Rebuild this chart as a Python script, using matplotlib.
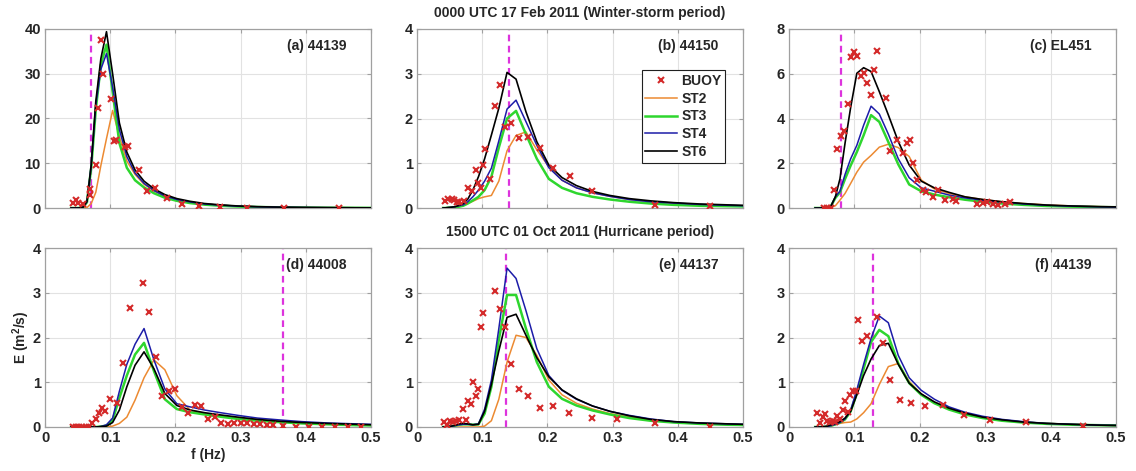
import matplotlib
matplotlib.use("Agg")
import matplotlib.pyplot as plt

plt.rcParams['font.family'] = ['Liberation Sans', 'DejaVu Sans']
plt.rcParams['font.weight'] = 'bold'
plt.rcParams['mathtext.fontset'] = 'custom'
plt.rcParams['mathtext.rm'] = 'Liberation Sans:bold'
plt.rcParams['mathtext.bf'] = 'Liberation Sans:bold'

# model frequency bins (Hz)
model_freq = [0.0400, 0.0440, 0.0484, 0.0532, 0.0586, 0.0644, 0.0709, 0.0779, 0.0857,
              0.0943, 0.1037, 0.1141, 0.1255, 0.1381, 0.1519, 0.1671, 0.1838, 0.2022,
              0.2224, 0.2446, 0.2691, 0.2960, 0.3256, 0.3582, 0.3940, 0.4334, 0.4767, 0.5244]

# (a) 44139, winter storm
a_buoy_f = [0.0426, 0.0477, 0.0513, 0.058, 0.069, 0.0695, 0.0785, 0.082, 0.086, 0.0897, 0.1015,
            0.106, 0.109, 0.123, 0.127, 0.1436, 0.156, 0.169, 0.187, 0.21, 0.236, 0.269, 0.31,
            0.367, 0.451]
a_buoy_E = [1.2, 1.8, 1.2, 0.9, 4.2, 2.9, 9.7, 22.4, 37.5, 30.0, 24.3, 14.9, 15.2, 13.7, 13.8,
            8.6, 3.9, 4.4, 2.3, 1.0, 0.5, 0.25, 0.1, 0.1, 0.05]
a_st2 = [0, 0, 0, 0, 0, 0.1, 1.0, 3.5, 9.5, 15.5, 21.8, 16.0, 10.5, 7.5, 5.3, 3.8, 2.7, 1.9,
         1.35, 0.9, 0.62, 0.4, 0.27, 0.18, 0.12, 0.08, 0.05, 0.03]
a_st3 = [0, 0, 0, 0.02, 0.2, 1.3, 9.0, 22.0, 32.0, 36.5, 26.0, 14.5, 9.0, 6.2, 4.6, 3.3, 2.3,
         1.6, 1.1, 0.75, 0.5, 0.33, 0.22, 0.15, 0.1, 0.06, 0.04, 0.02]
a_st4 = [0, 0, 0, 0.02, 0.2, 1.4, 9.5, 23.0, 31.0, 34.5, 27.0, 17.5, 11.5, 7.8, 5.5, 3.9, 2.7,
         1.9, 1.35, 0.9, 0.62, 0.4, 0.27, 0.18, 0.12, 0.08, 0.05, 0.03]
a_st6 = [0, 0, 0, 0.02, 0.2, 1.5, 9.6, 23.8, 33.4, 39.4, 30.0, 19.0, 12.5, 8.5, 6.0, 4.3, 3.0,
         2.1, 1.5, 1.0, 0.7, 0.45, 0.3, 0.2, 0.13, 0.08, 0.05, 0.03]

# (b) 44150, winter storm
b_buoy_f = [0.043, 0.048, 0.053, 0.057, 0.061, 0.065, 0.0726, 0.0788, 0.0839, 0.0905, 0.094,
            0.0977, 0.1017, 0.105, 0.112, 0.1196, 0.127, 0.135, 0.144, 0.156, 0.170, 0.189,
            0.208, 0.234, 0.268, 0.365, 0.45]
b_buoy_E = [0.16, 0.19, 0.19, 0.18, 0.13, 0.14, 0.15, 0.44, 0.38, 0.86, 0.56, 0.44, 0.96, 1.32,
            0.65, 2.29, 2.74, 1.8, 1.91, 1.56, 1.58, 1.33, 0.9, 0.72, 0.37, 0.06, 0.05]
b_st2 = [0, 0, 0, 0.01, 0.02, 0.04, 0.07, 0.1, 0.15, 0.21, 0.25, 0.28, 0.6, 1.28, 1.62, 1.7,
         1.3, 0.92, 0.62, 0.45, 0.34, 0.26, 0.19, 0.14, 0.1, 0.07, 0.05, 0.04]
b_st3 = [0, 0, 0.01, 0.01, 0.02, 0.03, 0.05, 0.1, 0.17, 0.25, 0.4, 0.7, 1.35, 2.0, 2.17, 1.65,
         1.1, 0.65, 0.45, 0.33, 0.25, 0.19, 0.14, 0.1, 0.07, 0.05, 0.04, 0.03]
b_st4 = [0, 0.005, 0.01, 0.015, 0.03, 0.05, 0.07, 0.14, 0.25, 0.4, 0.6, 0.89, 1.5, 2.21, 2.41,
         1.93, 1.4, 0.9, 0.62, 0.45, 0.34, 0.26, 0.19, 0.14, 0.11, 0.08, 0.06, 0.04]
b_st6 = [0, 0.005, 0.01, 0.02, 0.03, 0.06, 0.1, 0.2, 0.4, 0.7, 1.1, 1.63, 2.23, 3.03, 2.88,
         2.15, 1.48, 0.96, 0.68, 0.5, 0.37, 0.28, 0.21, 0.16, 0.12, 0.09, 0.07, 0.05]

# (c) EL451, winter storm
c_buoy_f = [0.053, 0.058, 0.0637, 0.069, 0.0739, 0.079, 0.084, 0.0897, 0.0943, 0.0994, 0.1045,
            0.1096, 0.1147, 0.1188, 0.125, 0.13, 0.135, 0.149, 0.154, 0.1646, 0.1748, 0.18,
            0.185, 0.19, 0.195, 0.205, 0.21, 0.2197, 0.228, 0.238, 0.251, 0.256, 0.287, 0.297,
            0.303, 0.312, 0.32, 0.33, 0.338]
c_buoy_E = [0, 0, 0, 0.79, 2.62, 3.21, 3.44, 4.65, 6.74, 6.95, 6.8, 5.9, 6.05, 5.6, 5.05, 6.17,
            7.0, 4.9, 2.56, 3.03, 2.47, 2.91, 3.03, 2.02, 1.24, 0.82, 0.72, 0.49, 0.82, 0.37,
            0.42, 0.31, 0.16, 0.22, 0.27, 0.16, 0.13, 0.16, 0.27]
c_st2 = [0, 0, 0, 0, 0.01, 0.02, 0.1, 0.35, 0.65, 1.1, 1.6, 2.05, 2.35, 2.72, 2.85, 2.7, 2.3,
         1.25, 0.85, 0.65, 0.5, 0.38, 0.28, 0.2, 0.14, 0.09, 0.06, 0.04]
c_st3 = [0, 0, 0, 0.01, 0.03, 0.1, 0.45, 0.7, 1.3, 1.9, 2.5, 3.25, 4.15, 3.85, 2.95, 1.95, 1.05,
         0.75, 0.6, 0.48, 0.37, 0.28, 0.2, 0.14, 0.09, 0.06, 0.04, 0.03]
c_st4 = [0, 0, 0, 0.01, 0.03, 0.1, 0.5, 0.75, 1.5, 2.2, 2.8, 3.7, 4.55, 4.2, 3.3, 2.2, 1.35,
         0.9, 0.75, 0.58, 0.45, 0.35, 0.26, 0.18, 0.12, 0.08, 0.05, 0.03]
c_st6 = [0, 0, 0, 0.01, 0.03, 0.1, 0.5, 1.3, 2.9, 4.5, 6.02, 6.27, 6.1, 5.2, 4.16, 2.97, 1.92,
         1.2, 0.9, 0.7, 0.5, 0.38, 0.28, 0.2, 0.13, 0.09, 0.06, 0.04]

# (d) 44008, hurricane
d_buoy_f = [0.0425, 0.0475, 0.0525, 0.0575, 0.0625, 0.0675, 0.0725, 0.0775, 0.0825, 0.0875,
            0.0925, 0.10, 0.11, 0.12, 0.13, 0.15, 0.16, 0.17, 0.18, 0.19, 0.20, 0.21, 0.22,
            0.23, 0.24, 0.25, 0.26, 0.27, 0.28, 0.29, 0.30, 0.31, 0.32, 0.33, 0.34, 0.35,
            0.365, 0.385, 0.405, 0.425, 0.445, 0.465, 0.485]
d_buoy_E = [0, 0, 0, 0, 0, 0, 0.1, 0.17, 0.32, 0.42, 0.36, 0.62, 0.53, 1.44, 2.65, 3.21, 2.58,
            1.57, 0.69, 0.81, 0.86, 0.45, 0.32, 0.49, 0.47, 0.17, 0.22, 0.1, 0.06, 0.08, 0.1,
            0.08, 0.07, 0.07, 0.04, 0.04, 0.02, 0.01, 0.01, 0, 0, 0, 0]
d_st2 = [0, 0, 0, 0, 0, 0, 0, 0, 0, 0, 0.02, 0.08, 0.22, 0.6, 1.1, 1.5, 1.28, 0.7, 0.38, 0.3,
         0.25, 0.2, 0.16, 0.12, 0.09, 0.07, 0.05, 0.04]
d_st3 = [0, 0, 0, 0, 0, 0, 0, 0, 0.01, 0.03, 0.15, 0.65, 1.15, 1.62, 1.88, 1.25, 0.62, 0.4,
         0.33, 0.28, 0.23, 0.18, 0.14, 0.11, 0.08, 0.06, 0.04, 0.03]
d_st4 = [0, 0, 0, 0, 0, 0, 0, 0, 0.01, 0.05, 0.2, 0.8, 1.4, 1.85, 2.2, 1.5, 0.85, 0.52, 0.45,
         0.38, 0.32, 0.26, 0.2, 0.16, 0.12, 0.09, 0.07, 0.05]
d_st6 = [0, 0, 0, 0, 0, 0, 0, 0, 0.01, 0.02, 0.1, 0.38, 0.9, 1.38, 1.68, 1.3, 0.75, 0.48, 0.38,
         0.32, 0.27, 0.22, 0.17, 0.13, 0.1, 0.08, 0.06, 0.04]

# (e) 44137, hurricane
e_buoy_f = [0.0414, 0.0465, 0.0506, 0.0557, 0.0598, 0.065, 0.071, 0.075, 0.0788, 0.0823, 0.0864,
            0.0905, 0.094, 0.0977, 0.1017, 0.119, 0.127, 0.135, 0.144, 0.1565, 0.17, 0.188,
            0.208, 0.2337, 0.268, 0.307, 0.365, 0.45]
e_buoy_E = [0.12, 0.04, 0.13, 0.12, 0.14, 0.16, 0.4, 0.16, 0.57, 0.51, 1.0, 0.69, 0.86, 2.24,
            2.54, 3.05, 2.63, 2.23, 1.41, 0.84, 0.7, 0.42, 0.47, 0.32, 0.19, 0.17, 0.08, 0.01]
e_st2 = [0, 0, 0, 0, 0, 0, 0, 0, 0, 0, 0.02, 0.14, 0.62, 1.45, 2.05, 2.0, 1.6, 1.05, 0.72,
         0.53, 0.4, 0.3, 0.22, 0.16, 0.11, 0.08, 0.06, 0.04]
e_st3 = [0, 0, 0.01, 0.02, 0.03, 0.05, 0.06, 0.06, 0.05, 0.06, 0.3, 0.9, 1.95, 2.95, 2.95, 2.2,
         1.45, 0.9, 0.63, 0.48, 0.37, 0.28, 0.2, 0.14, 0.1, 0.07, 0.05, 0.04]
e_st4 = [0, 0, 0.01, 0.02, 0.03, 0.05, 0.06, 0.06, 0.05, 0.07, 0.4, 1.05, 2.2, 3.55, 3.32, 2.6,
         1.75, 1.15, 0.82, 0.62, 0.47, 0.35, 0.26, 0.18, 0.12, 0.09, 0.07, 0.05]
e_st6 = [0, 0, 0.01, 0.02, 0.04, 0.07, 0.08, 0.07, 0.05, 0.06, 0.35, 0.95, 1.7, 2.45, 2.52,
         2.05, 1.55, 1.12, 0.83, 0.63, 0.47, 0.35, 0.25, 0.17, 0.12, 0.09, 0.07, 0.05]

# (f) 44139, hurricane
f_buoy_f = [0.0423, 0.0474, 0.0515, 0.055, 0.0586, 0.0627, 0.0668, 0.0703, 0.074, 0.078, 0.082,
            0.0857, 0.0897, 0.0933, 0.0974, 0.1025, 0.105, 0.111, 0.119, 0.134, 0.1442, 0.155,
            0.170, 0.1866, 0.208, 0.235, 0.268, 0.307, 0.363, 0.45]
f_buoy_E = [0.32, 0.08, 0.23, 0.29, 0.14, 0.12, 0.14, 0.12, 0.25, 0.17, 0.38, 0.57, 0.34, 0.72,
            0.81, 0.81, 2.38, 1.93, 2.03, 2.46, 1.88, 1.04, 0.6, 0.53, 0.48, 0.5, 0.27, 0.16,
            0.11, 0.02]
f_st2 = [0, 0, 0, 0, 0, 0.02, 0.05, 0.08, 0.1, 0.11, 0.18, 0.32, 0.52, 0.95, 1.35, 1.42, 1.02,
         0.74, 0.55, 0.41, 0.3, 0.21, 0.15, 0.11, 0.08, 0.06, 0.04, 0.03]
f_st3 = [0, 0, 0, 0, 0.01, 0.03, 0.06, 0.1, 0.17, 0.35, 0.75, 1.3, 1.9, 2.17, 2.03, 1.42, 0.98,
         0.72, 0.53, 0.39, 0.28, 0.2, 0.14, 0.1, 0.07, 0.05, 0.04, 0.03]
f_st4 = [0, 0, 0, 0, 0.01, 0.03, 0.06, 0.1, 0.18, 0.38, 0.83, 1.4, 1.98, 2.48, 2.33, 1.6, 1.1,
         0.82, 0.62, 0.45, 0.33, 0.24, 0.17, 0.12, 0.08, 0.06, 0.04, 0.03]
f_st6 = [0, 0, 0, 0.01, 0.02, 0.05, 0.08, 0.12, 0.2, 0.35, 0.72, 1.15, 1.52, 1.82, 1.87, 1.4,
         0.98, 0.74, 0.56, 0.42, 0.31, 0.22, 0.16, 0.11, 0.08, 0.06, 0.04, 0.03]

panel_labels = ['(a) 44139', '(b) 44150', '(c) EL451', '(d) 44008', '(e) 44137', '(f) 44139']
peak_freq = [0.0708, 0.1416, 0.079, 0.365, 0.1365, 0.129]
y_max = [40, 4, 8, 4, 4, 4]
y_step = [10, 1, 2, 1, 1, 1]
x_ticks = [0, 0.1, 0.2, 0.3, 0.4, 0.5]
x_ticklabels = ['0', '0.1', '0.2', '0.3', '0.4', '0.5']
series_names = ['BUOY', 'ST2', 'ST3', 'ST4', 'ST6']
title_winter = '0000 UTC 17 Feb 2011 (Winter-storm period)'
title_hurricane = '1500 UTC 01 Oct 2011 (Hurricane period)'

buoy_f = [a_buoy_f, b_buoy_f, c_buoy_f, d_buoy_f, e_buoy_f, f_buoy_f]
buoy_E = [a_buoy_E, b_buoy_E, c_buoy_E, d_buoy_E, e_buoy_E, f_buoy_E]
st2 = [a_st2, b_st2, c_st2, d_st2, e_st2, f_st2]
st3 = [a_st3, b_st3, c_st3, d_st3, e_st3, f_st3]
st4 = [a_st4, b_st4, c_st4, d_st4, e_st4, f_st4]
st6 = [a_st6, b_st6, c_st6, d_st6, e_st6, f_st6]

C_BUOY = '#d42a2a'
C_ST2 = '#ec8a32'
C_ST3 = '#2ed62e'
C_ST4 = '#1c1ca8'
C_ST6 = '#000000'
C_PEAK = '#dd33dd'
C_TEXT = '#262626'
C_FRAME = '#a0a0a0'

fig = plt.figure(figsize=(11.36, 4.71), dpi=100)
W, H = 1136.0, 471.0
lefts = [45, 417, 789]
widths = [326, 326, 327]
tops = [29, 248]
ax_h = 179

axes = []
for r in range(2):
    for c in range(3):
        ax = fig.add_axes([lefts[c] / W, (H - tops[r] - ax_h) / H, widths[c] / W, ax_h / H])
        axes.append(ax)

for i, ax in enumerate(axes):
    ax.grid(True, color='#e2e2e2', linewidth=0.8, zorder=0)
    ax.set_axisbelow(True)
    ax.axvline(peak_freq[i], color=C_PEAK, linestyle=(0, (3.0, 2.0)), linewidth=1.6, zorder=2)
    ax.plot(buoy_f[i], buoy_E[i], linestyle='none', marker='x', markersize=4.2,
            markeredgewidth=1.5, color=C_BUOY, label=series_names[0], zorder=5)
    ax.plot(model_freq, st2[i], color=C_ST2, linewidth=1.1, label=series_names[1], zorder=3)
    ax.plot(model_freq, st3[i], color=C_ST3, linewidth=1.8, label=series_names[2], zorder=3)
    ax.plot(model_freq, st4[i], color=C_ST4, linewidth=1.1, label=series_names[3], zorder=4)
    ax.plot(model_freq, st6[i], color=C_ST6, linewidth=1.2, label=series_names[4], zorder=4)

    ax.set_xlim(0, 0.5)
    ax.set_ylim(0, y_max[i])
    ax.set_xticks(x_ticks)
    ax.set_yticks(list(range(0, y_max[i] + 1, y_step[i])))
    if i >= 3:
        ax.set_xticklabels(x_ticklabels)
    else:
        ax.set_xticklabels([])
    ax.tick_params(direction='in', length=3, width=0.8, colors=C_FRAME,
                   labelcolor=C_TEXT, labelsize=10.5, pad=3,
                   top=True, right=True)
    for lab in ax.get_xticklabels() + ax.get_yticklabels():
        lab.set_fontweight('bold')
    for sp in ax.spines.values():
        sp.set_color(C_FRAME)
        sp.set_linewidth(0.9)
    ax.text(0.925, 0.905, panel_labels[i], transform=ax.transAxes, ha='right', va='center',
            fontsize=10, fontweight='bold', color=C_TEXT)

leg = axes[1].legend(loc='upper right', bbox_to_anchor=(0.945, 0.77), fontsize=10,
                     frameon=True, fancybox=False, framealpha=1, edgecolor='#202020',
                     handlelength=2.3, handletextpad=0.3, labelspacing=0.28,
                     borderpad=0.25, borderaxespad=0)
leg.get_frame().set_linewidth(0.8)
for t in leg.get_texts():
    t.set_fontweight('bold')
    t.set_color(C_TEXT)

axes[3].set_xlabel('f (Hz)', fontsize=10, fontweight='bold', color=C_TEXT)
axes[3].xaxis.set_label_coords(0.5, -0.115)
axes[3].set_ylabel(r'E (m$^{2}$/s)', fontsize=10, fontweight='bold', color=C_TEXT)
axes[3].yaxis.set_label_coords(-0.04, 0.5)

fig.text(580 / W, 1 - 13 / H, title_winter, ha='center', va='center', fontsize=10,
         fontweight='bold', color=C_TEXT)
fig.text(580 / W, 1 - 232 / H, title_hurricane, ha='center', va='center', fontsize=10,
         fontweight='bold', color=C_TEXT)

fig.savefig('out.png', dpi=100)
